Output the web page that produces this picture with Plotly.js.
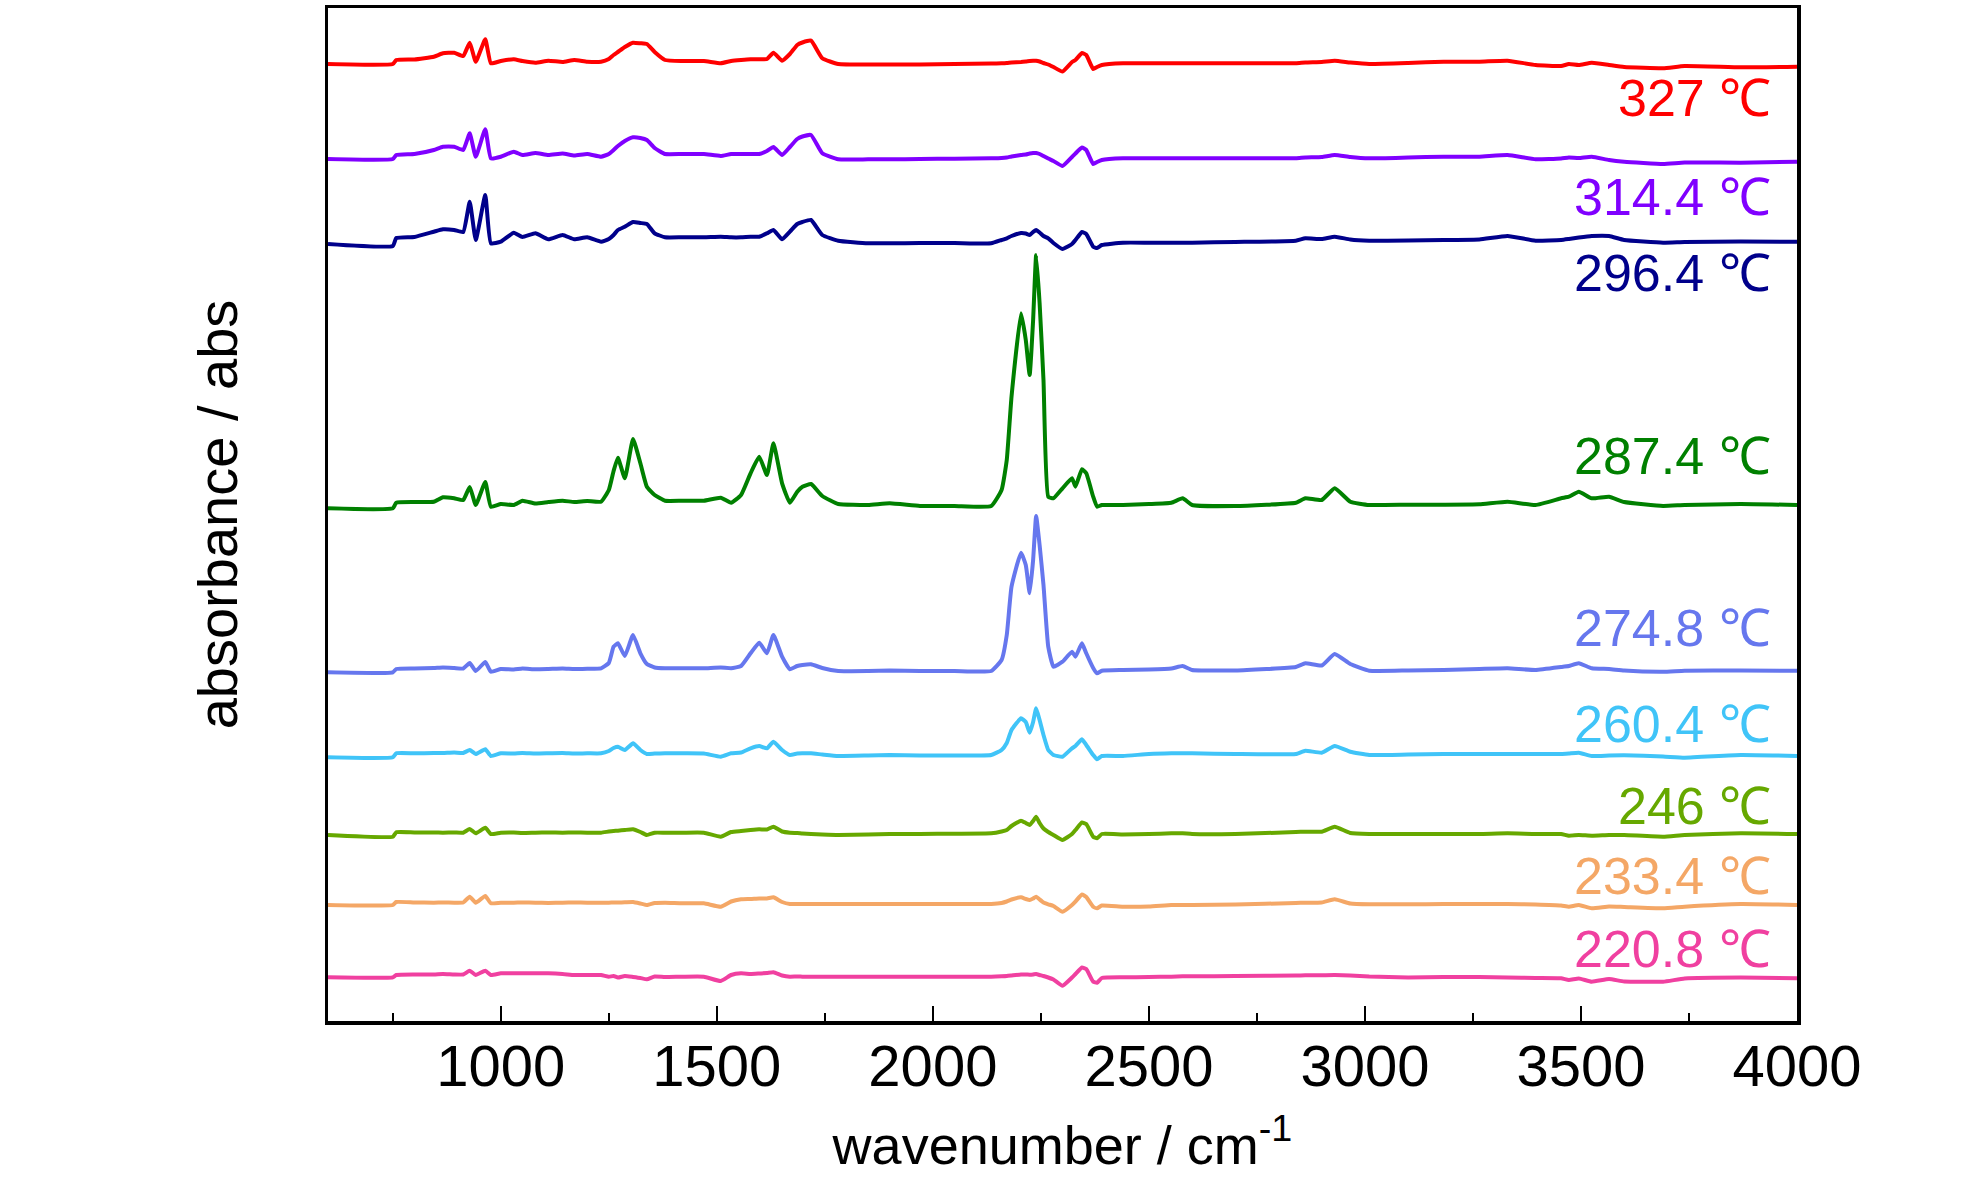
<!DOCTYPE html>
<html>
<head>
<meta charset="utf-8">
<script src="https://cdn.plot.ly/plotly-3.0.1.min.js"></script>
<style>
  html, body { margin: 0; padding: 0; background: #fff; }
  #chart { width: 1984px; height: 1181px; }
</style>
</head>
<body>
<div id="chart"></div>
<script>
// shared wavenumber grid (cm-1)
var wavenumber = [
  600, 750, 758, 800, 845, 866, 892, 913, 928, 942,
  964, 977, 1000, 1030, 1050, 1080, 1110, 1143, 1170, 1200,
  1232, 1250, 1261, 1271, 1287, 1306, 1323, 1338, 1356, 1380,
  1420, 1470, 1509, 1533, 1556, 1578, 1598, 1616, 1631, 1651,
  1669, 1686, 1698, 1718, 1744, 1781, 1850, 1900, 1970, 2050,
  2135, 2159, 2171, 2182, 2204, 2215, 2224, 2232, 2239, 2247,
  2256, 2267, 2279, 2300, 2322, 2330, 2345, 2355, 2371, 2380,
  2391, 2440, 2500, 2552, 2578, 2600, 2700, 2840, 2862, 2900,
  2930, 2966, 3010, 3100, 3182, 3265, 3330, 3395, 3454, 3472,
  3495, 3525, 3565, 3600, 3690, 3740, 3870, 4000
];

// stacked absorbance (arbitrary units, offset per temperature)
var abs327 = [
  957, 957, 961, 961.5, 964.3, 967.7, 968.3, 965, 978.3, 959.3,
  981.7, 957.7, 960, 961.7, 960, 958.3, 960.3, 959, 961, 959.3,
  959.3, 962, 966, 969, 974, 978.3, 977.7, 977, 969, 961,
  960, 960, 957.7, 960, 961, 961.7, 961.7, 962, 968.3, 960.3,
  967, 976, 978.5, 980.3, 962.7, 957, 956.5, 956.5, 956.5, 957,
  957.5, 957.7, 958, 958.5, 959, 959.5, 960, 960.3, 960.3, 959.5,
  958, 956.5, 954, 949.5, 959, 961, 968, 966, 952, 954,
  956, 957.7, 957.7, 957.7, 957.7, 957.7, 957.7, 957.7, 958.5, 959,
  960.3, 958.5, 957, 958, 959.3, 959.3, 960.3, 956, 955, 957,
  956, 958.3, 956, 954, 952.7, 955, 953.7, 954.3
];
var abs314 = [
  862, 862, 866, 867, 871, 874.3, 874.3, 871, 887.7, 864.3,
  891.7, 862.7, 864.3, 869.3, 866, 868, 866, 867.5, 865.5, 867,
  864.3, 867, 871, 875, 880, 883.7, 883, 881, 873, 867,
  867, 867, 865, 867, 867, 867, 867, 870, 874, 866,
  874, 882, 884.5, 886, 867.7, 861.7, 861.7, 861.7, 862, 862.3,
  862.7, 863, 863.5, 864.5, 866, 866.5, 867.5, 868, 868, 867,
  865, 862.5, 860, 855, 864, 867.5, 873.5, 871, 857, 859,
  861, 862.7, 862.7, 862.7, 862.7, 862.7, 862.7, 862.7, 863.5, 864,
  866, 864, 862.7, 863.5, 864.3, 864.3, 866, 861.7, 862.5, 863.5,
  863, 864.3, 861, 859.3, 857, 858.5, 858.3, 859.3
];
var abs296 = [
  777, 775, 783, 784, 789.3, 791.7, 791, 789, 819.3, 781,
  826, 777.7, 779.3, 788.3, 784, 787.7, 781.7, 786, 781.7, 783.7,
  779.3, 782, 786, 791, 794.3, 799, 798, 797, 787.7, 783.7,
  783.7, 783.7, 784.3, 783.7, 783.7, 784.3, 784.3, 787.7, 791, 781.7,
  789.3, 797, 799, 801, 786, 780.3, 777.7, 777.7, 778, 778,
  777.7, 781, 782.7, 785, 788, 787.5, 786, 789, 791, 788.5,
  785, 782.7, 778, 772, 777, 781, 789, 787, 774.3, 773,
  776, 778.3, 778.3, 778.3, 778.3, 778.3, 779, 780.3, 782.7, 782,
  784.3, 781.5, 780.3, 780.5, 781, 781.5, 785, 780.3, 781, 782,
  783.5, 785, 785, 781, 778.3, 779, 779.5, 779.3
];
var abs287 = [
  512.7, 512.7, 518.3, 519, 519.3, 523.7, 522.7, 521, 534, 516,
  539, 514.3, 517, 516, 520.3, 517.5, 519, 520.3, 519, 520,
  519.3, 531, 550, 563.3, 542.7, 582, 557.7, 534.3, 526, 520.3,
  520.3, 520.3, 523.3, 518.3, 526, 547.7, 564.3, 546, 577.7, 537.7,
  518.3, 529.3, 534.3, 537, 525, 517, 516, 517.7, 515, 515,
  515, 531, 561, 624.3, 707.7, 681, 646, 701, 766, 718,
  641, 524.3, 522.7, 532.7, 542.7, 534.3, 551.7, 547.7, 524.3, 514.3,
  516, 516, 517, 518.3, 522.7, 516, 515, 518.3, 522.7, 521,
  532.7, 519.3, 516, 516.3, 516.3, 516.7, 519.3, 516, 522.7, 524.3,
  529.3, 522.7, 524.3, 519, 515, 516, 517, 516
];
var abs274 = [
  348.7, 348.7, 352, 352.5, 353, 353.5, 353, 352.5, 358, 350,
  359, 349.3, 352, 351.5, 352.5, 351.7, 352, 352.5, 352, 352.3,
  352.7, 358, 374.3, 377.7, 365, 386, 367.7, 357, 353.5, 352.7,
  352.7, 352.7, 353.5, 352.7, 355, 367.7, 378.3, 367.7, 386, 364.3,
  351.7, 355, 356, 356.7, 353, 350, 350, 350.5, 350, 350,
  350, 361, 386, 434.3, 468.3, 456, 427.7, 461, 505, 476,
  436, 374.3, 354.3, 359.3, 369.3, 364.3, 377.7, 367.7, 353, 347.7,
  350.3, 351, 351.5, 352.5, 355, 351, 350.5, 354, 357.7, 355.5,
  367, 357, 350.3, 350.5, 351, 352, 352.7, 351, 354, 355,
  357.7, 352.7, 352, 350.5, 349.3, 350.3, 350.5, 350.3
];
var abs260 = [
  263.7, 263.7, 267.7, 267.7, 268, 268, 268.5, 268, 271, 267,
  271.7, 265, 267.7, 267.5, 268, 267.5, 267.7, 268, 267.5, 267.7,
  267.7, 270, 273, 274.3, 271, 277.7, 271, 267, 267.5, 267.7,
  267.7, 267.5, 264.3, 267.7, 268.5, 272.7, 275, 272.7, 279.3, 271,
  266, 267.5, 267.7, 267.7, 266.5, 265, 265.5, 266, 265.5, 265.5,
  266, 271, 278, 291, 302.7, 299, 288.3, 299, 312.7, 301,
  286, 271, 266, 264.3, 272.7, 275, 281.7, 276, 266, 261.7,
  265, 265, 267, 267.7, 267.7, 267.7, 267, 267, 270.3, 268.3,
  275, 269.3, 266, 266.5, 267, 267, 267, 267, 267, 267.5,
  268.3, 265, 265.5, 265.7, 264.5, 263.3, 266, 265
];
var abs246 = [
  186, 184.3, 188.7, 188.5, 188.5, 188.3, 188.5, 188.3, 192, 187.7,
  193.3, 187, 188.3, 188.5, 188, 188.3, 188.5, 188.3, 188.5, 188.3,
  188.3, 189.5, 190, 190.3, 191, 191.7, 189, 186, 188.3, 188.3,
  188.3, 188.3, 184.3, 189, 190, 191, 191.7, 191.5, 194.3, 189.5,
  188.3, 188, 187.5, 187, 186.5, 186, 186.5, 187, 187, 187.3,
  187.7, 189.5, 191, 195, 200.3, 198, 196, 200, 204.3, 198,
  192.5, 189, 186, 181, 187, 191, 198.5, 197, 184.3, 182.7,
  187, 186.5, 187, 187.7, 187.7, 187, 187, 189, 189.3, 189.3,
  194.3, 188, 187, 187, 187, 187, 187.7, 187, 187, 185.3,
  186, 185.3, 186, 186, 184.3, 186, 187.7, 187
];
var abs233 = [
  116, 116, 119, 118.5, 118.3, 118.5, 118.3, 118.5, 124.3, 118.3,
  125, 117.7, 118.3, 118.3, 118.5, 118.3, 118, 118.3, 118.5, 118.3,
  118.3, 118.3, 118.5, 118.5, 118.7, 119, 117.5, 116, 118, 118.3,
  117.7, 117.7, 114.3, 119.5, 121.7, 122, 122.5, 122.5, 123.7, 119,
  117, 117, 117, 117, 117, 117, 117, 117, 117, 117,
  117, 118, 119.5, 121.5, 123.7, 122, 121, 122.5, 124.3, 121.5,
  118.5, 116.7, 115, 109.3, 116, 119.5, 126.5, 124, 114.3, 112.7,
  115.5, 114.3, 114.5, 116, 116, 116, 116.5, 118, 118.3, 118.5,
  121.7, 117.5, 116.7, 116.7, 117, 117, 117, 116.5, 115.5, 114.3,
  116, 112.7, 114.5, 114, 112.7, 114.3, 117, 116
];
var abs220 = [
  43.7, 43.7, 46, 46.5, 46.5, 47, 46.5, 46.5, 50.3, 46,
  50.3, 46, 47.7, 47.7, 47.7, 47.7, 47.7, 47, 46, 46,
  46, 44.3, 45, 43.5, 45, 44, 43, 41.7, 44.5, 44,
  44.3, 44.3, 40, 46, 47.7, 47, 47.5, 48, 48.7, 45.5,
  44.3, 44.5, 44.3, 44.3, 44.3, 44.3, 44.3, 44.3, 44.3, 44.3,
  44.3, 44.7, 45, 45.5, 46.5, 46.5, 46.3, 46.5, 47, 46,
  45, 43.5, 41.5, 35.3, 43.5, 47, 53.5, 52, 39.3, 38.3,
  43, 43.7, 44, 44.3, 44.7, 44.7, 45, 45.5, 45.7, 45.8,
  46, 45.5, 44.5, 43.5, 44, 44, 43.5, 43, 42.7, 41,
  42.5, 39.3, 42, 39.5, 39.3, 42.5, 43.5, 42.7
];

var temperatures = ["327 ℃", "314.4 ℃", "296.4 ℃", "287.4 ℃", "274.8 ℃",
                    "260.4 ℃", "246 ℃", "233.4 ℃", "220.8 ℃"];
var spectra = [abs327, abs314, abs296, abs287, abs274, abs260, abs246, abs233, abs220];

var colors = ["#ff0000", "#8000ff", "#00008b", "#008000", "#6677ee",
              "#40c4f8", "#66a800", "#f4a766", "#f040a0"];
// where each temperature label sits (y in plot units)
var labelY = [923, 824, 748, 565, 393, 297, 215, 145, 72];

var FONT = "'Liberation Sans', Arial, sans-serif";

var traces = spectra.map(function(s, i) {
    return {
        x: wavenumber,
        y: s,
        type: "scatter",
        mode: "lines",
        name: temperatures[i],
        line: {color: colors[i], width: 4, shape: "spline", smoothing: 0.4}
    };
});

var annotations = temperatures.map(function(t, i) {
    return {
        xref: "x", yref: "y",
        x: 3945, y: labelY[i],
        xanchor: "right", yanchor: "middle",
        text: t,
        showarrow: false,
        font: {family: FONT, size: 52, color: colors[i]}
    };
});

var layout = {
    width: 1984,
    height: 1181,
    margin: {l: 328, r: 187, t: 8, b: 160},
    paper_bgcolor: "#fff",
    plot_bgcolor: "#fff",
    showlegend: false,
    font: {family: FONT, color: "#000"},
    xaxis: {
        range: [600, 4000],
        tick0: 0,
        dtick: 500,
        ticks: "inside",
        ticklen: 15,
        tickwidth: 2.5,
        tickcolor: "#000",
        minor: {tick0: 0, dtick: 250, ticks: "inside", ticklen: 8, tickwidth: 2.5, tickcolor: "#000"},
        showline: true,
        linewidth: 3.5,
        linecolor: "#000",
        mirror: true,
        showgrid: false,
        zeroline: false,
        tickfont: {family: FONT, size: 58, color: "#000"},
        ticklabelstandoff: -8,
        title: {text: "wavenumber / cm<sup>-1</sup>", font: {family: FONT, size: 54, color: "#000"}, standoff: 30}
    },
    yaxis: {
        range: [0, 1013],
        showticklabels: false,
        ticks: "",
        showline: true,
        linewidth: 3.5,
        linecolor: "#000",
        mirror: true,
        showgrid: false,
        zeroline: false,
        title: {text: "absorbance / abs", font: {family: FONT, size: 56, color: "#000"}, standoff: 70}
    },
    annotations: annotations
};

Plotly.newPlot("chart", traces, layout, {displayModeBar: false, staticPlot: true});
</script>
</body>
</html>
